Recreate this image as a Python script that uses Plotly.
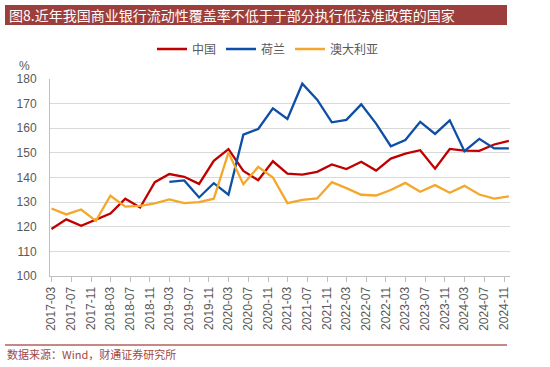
import plotly.graph_objects as go

# ---- data ----
dates = [f"{y}-{m:02d}-01" for y in range(2017, 2025) for m in (3, 6, 9, 12)]

china = [119.1, 123.0, 120.4, 122.8, 125.4, 131.4, 127.8, 138.1,
         141.4, 140.3, 137.4, 146.8, 151.5, 142.7, 138.9, 146.6,
         141.6, 141.2, 142.3, 145.3, 143.4, 146.4, 142.8, 147.7,
         149.7, 151.1, 143.6, 151.6, 150.9, 150.8, 153.4, 154.9]

netherlands = [None] * 8 + [
         138.2, 138.8, 131.9, 137.7, 133.0, 157.4, 159.7, 168.1,
         163.8, 178.1, 171.6, 162.4, 163.4, 169.7, 161.9, 152.7,
         155.2, 162.6, 157.7, 163.2, 150.7, 155.7, 151.8, 151.8]

australia = [127.4, 125.0, 127.0, 122.4, 132.6, 128.2, 128.5, 129.5,
             131.1, 129.6, 130.0, 131.4, 150.1, 137.3, 144.3, 140.0,
             129.6, 130.9, 131.5, 138.1, 135.7, 133.0, 132.7, 134.9,
             137.8, 134.2, 136.9, 133.8, 136.6, 133.1, 131.4, 132.3]

series_names = ["中国", "荷兰", "澳大利亚"]
series_colors = ["#C00000", "#0D4EA6", "#F4A72A"]

title_text = "图8.近年我国商业银行流动性覆盖率不低于于部分执行低法准政策的国家"
source_text = "数据来源：Wind，财通证券研究所"

# ---- layout geometry ----
W, H = 550, 367
L, R, T, B = 50, 40, 79, 91
pw, ph = W - L - R, H - T - B


def xp(px):
    return (px - L) / pw


def yp(py):
    return (H - B - py) / ph


CJK = "Noto Sans CJK SC"
LAT = "Liberation Sans"
GREY = "#595959"

fig = go.Figure()
for name, vals, col in zip(series_names, [china, netherlands, australia], series_colors):
    fig.add_trace(go.Scatter(x=dates, y=vals, name=name, mode="lines",
                             line=dict(color=col, width=2.3),
                             connectgaps=False))

fig.update_layout(
    width=W, height=H,
    margin=dict(l=L, r=R, t=T, b=B, autoexpand=False),
    paper_bgcolor="white", plot_bgcolor="white",
    showlegend=True,
    legend=dict(orientation="h", x=xp(152), y=yp(49), xanchor="left", yanchor="middle",
                font=dict(family=CJK, size=12, color=GREY),
                itemwidth=30, tracegroupgap=0, bgcolor="rgba(0,0,0,0)"),
    xaxis=dict(type="date", range=["2017-02-20", "2024-12-08"],
               tick0="2017-03-01", dtick="M4", tickformat="%Y-%m",
               tickangle=-90, ticks="outside", ticklen=5, tickcolor="#BFBFBF",
               tickfont=dict(family=LAT, size=12, color=GREY),
               showgrid=False, showline=True, linecolor="#BFBFBF", linewidth=1,
               zeroline=False),
    yaxis=dict(range=[100, 180], dtick=10, tick0=100,
               tickfont=dict(family=LAT, size=12, color=GREY),
               showgrid=True, gridcolor="#D9D9D9", gridwidth=1.3,
               showline=True, linecolor="#BFBFBF", linewidth=1,
               zeroline=False, ticks="", ticklabelstandoff=10),
)

shapes = [
    dict(type="rect", xref="paper", yref="paper",
         x0=xp(5), x1=xp(507), y0=yp(25), y1=yp(5),
         fillcolor="#9C3E3C", line=dict(width=0), layer="below"),
    dict(type="line", xref="paper", yref="paper",
         x0=xp(5), x1=xp(507), y0=yp(345), y1=yp(345),
         line=dict(color="#B5605A", width=1.5), layer="above"),
]
fig.update_layout(shapes=shapes)

fig.add_annotation(text=title_text, xref="paper", yref="paper",
                   x=xp(7), y=yp(15), xanchor="left", yanchor="middle",
                   showarrow=False, font=dict(family=CJK, size=14, color="white"))
fig.add_annotation(text=source_text, xref="paper", yref="paper",
                   x=xp(5), y=yp(354), xanchor="left", yanchor="middle",
                   showarrow=False, font=dict(family=CJK, size=11, color="#A3473F"))
fig.add_annotation(text="%", xref="paper", yref="paper",
                   x=xp(24), y=yp(66), xanchor="center", yanchor="middle",
                   showarrow=False, font=dict(family=LAT, size=12, color=GREY))

fig.write_html("out.html", config={"displayModeBar": False},
               post_script="document.body.style.margin='0';document.body.style.padding='0';")
